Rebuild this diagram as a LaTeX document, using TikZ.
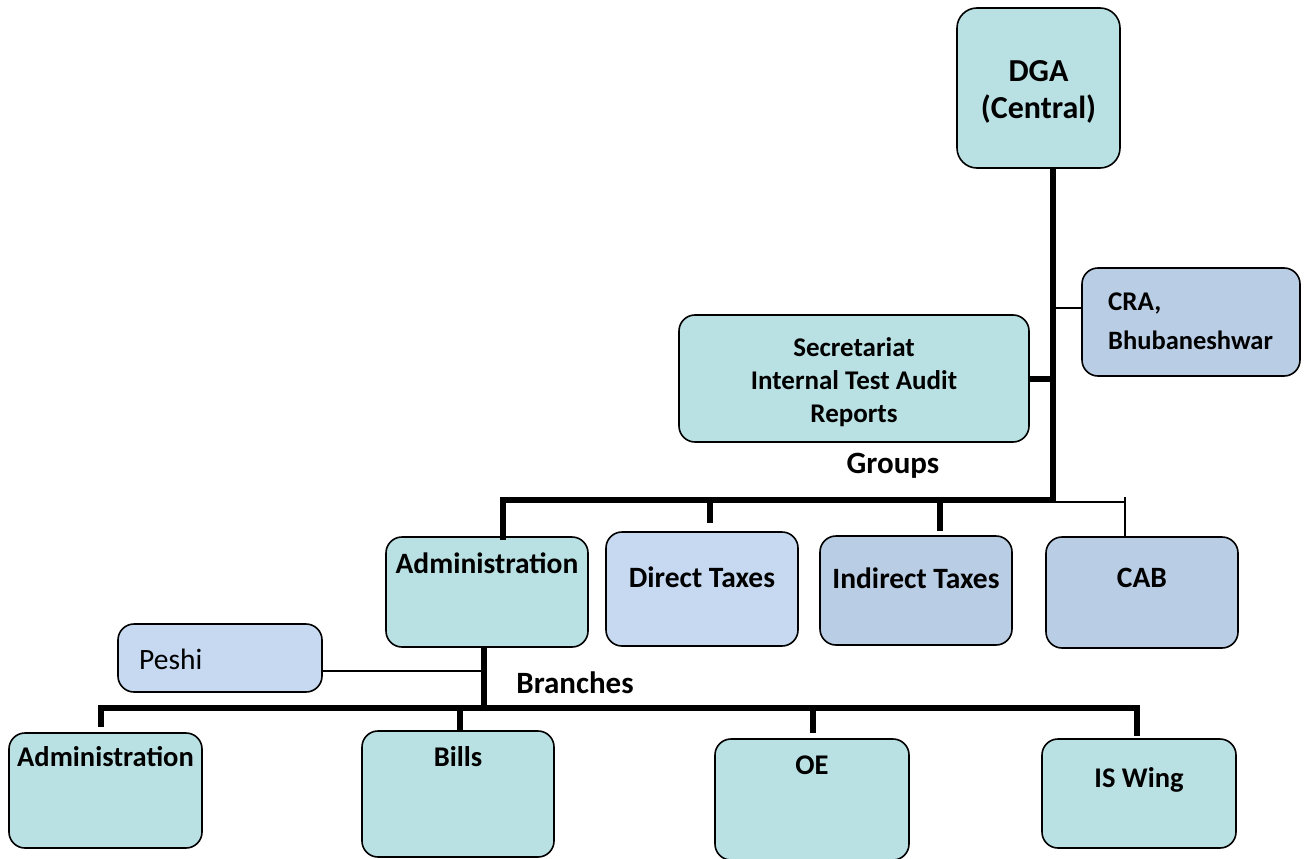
\documentclass[tikz,border=0pt]{standalone}
\usepackage{fontspec}
\setmainfont{Carlito}
\definecolor{aquafill}{HTML}{B9E0E3}
\definecolor{lbluefill}{HTML}{C6D9F1}
\definecolor{mbluefill}{HTML}{B9CDE5}
\tikzset{
  box/.style={draw=black, line width=1.6pt, rounded corners=16pt, inner sep=0pt},
  thickln/.style={line width=6pt, line join=miter},
  thinln/.style={line width=1.5pt},
  lbl/.style={inner sep=0pt, font=\fontsize{29.5}{36}\selectfont\bfseries, align=center},
  blbl/.style={inner sep=0pt, font=\fontsize{28.5}{36}\selectfont\bfseries, align=center},
  hlbl/.style={inner sep=0pt, font=\fontsize{31}{36}\selectfont\bfseries, align=center},
  slbl/.style={inner sep=0pt, font=\fontsize{27}{33}\selectfont\bfseries, align=center},
}
\begin{document}
\begin{tikzpicture}[x=1pt,y=-1pt]
\useasboundingbox (0,0) rectangle (1312,859);
% boxes
\node[box, fill=aquafill, minimum width=163pt, minimum height=160pt, rounded corners=20pt] (dga) at (1038.5,88) {};
\node[inner sep=0pt, font=\fontsize{32}{37}\selectfont\bfseries, align=center] (dgat) at (1038.5,92) {DGA\\(Central)};
\node[box, fill=mbluefill, minimum width=218pt, minimum height=108pt] (cra) at (1191,322) {};
\node[slbl, anchor=west] (crat1) at (1108,303) {CRA,};
\node[slbl, font=\fontsize{26.5}{33}\selectfont\bfseries, anchor=west] (crat2) at (1108,340) {Bhubaneshwar};
\node[box, fill=aquafill, minimum width=350pt, minimum height=127pt] (sec) at (854,378.5) {};
\node[slbl] (sect) at (854,382) {Secretariat\\Internal Test Audit\\Reports};
\node[hlbl] (groups) at (893,466) {Groups};
\node[box, fill=aquafill, minimum width=202pt, minimum height=110pt] (gadm) at (487,592) {};
\node[lbl] (gadmt) at (487,563) {Administration};
\node[box, fill=lbluefill, minimum width=192pt, minimum height=114pt] (dt) at (702,589) {};
\node[lbl] (dtt) at (702,577) {Direct Taxes};
\node[box, fill=mbluefill, minimum width=192pt, minimum height=109pt] (it) at (916,590.5) {};
\node[lbl] (itt) at (916,578) {Indirect Taxes};
\node[box, fill=mbluefill, minimum width=192pt, minimum height=111pt] (cab) at (1142,592.5) {};
\node[lbl] (cabt) at (1142,578) {CAB};
\node[box, fill=lbluefill, minimum width=204pt, minimum height=68pt] (peshi) at (220,658) {};
\node[inner sep=0pt, font=\fontsize{29.5}{34}\selectfont, anchor=west] (pesht) at (139,659) {Peshi};
\node[hlbl] (branches) at (575,683) {Branches};
\node[box, fill=aquafill, minimum width=193pt, minimum height=115pt] (badm) at (105.5,790.5) {};
\node[blbl] (badmt) at (105.5,757) {Administration};
\node[box, fill=aquafill, minimum width=192pt, minimum height=126pt] (bills) at (458,794) {};
\node[blbl] (billst) at (458,757) {Bills};
\node[box, fill=aquafill, minimum width=194pt, minimum height=121pt] (oe) at (812,799.5) {};
\node[blbl] (oet) at (812,765) {OE};
\node[box, fill=aquafill, minimum width=194pt, minimum height=109pt] (isw) at (1139,793.5) {};
\node[blbl] (iswt) at (1139,780) {IS Wing};
% junction coordinates
\coordinate (tr) at (1053,500);
\coordinate (g1) at (503,500);
\coordinate (g2) at (710,500);
\coordinate (g3) at (940,500);
\coordinate (cj) at (1125,502);
\coordinate (bj) at (484,708);
\coordinate (b1) at (101,708);
\coordinate (b2) at (460,708);
\coordinate (b3) at (813,708);
\coordinate (b4) at (1137,708);
% connectors
\draw[thickln] (dga.south -| tr) -- (tr) -- (g1) -- ([yshift=-4pt]g1 |- gadm.north);
\draw[thickln] (g2) -- (710,523);
\draw[thickln] (g3) -- (940,531);
\draw[thickln] (sec.east) -- (sec.east -| tr);
\draw[thinln] ([yshift=14pt]cra.west) -- ([yshift=14pt]cra.west -| tr);
\draw[thinln] (tr |- cj) -- (cj);
\draw[thinln] (1125,497) -- (cab.north -| cj);
\draw[thinln] ([yshift=-13pt]peshi.east) -- ([yshift=-13pt]peshi.east -| bj);
\draw[thickln] (gadm.south -| bj) -- (bj);
\draw[thickln] (101,727) -- (b1) -- (b4) -- (1137,736);
\draw[thickln] (b2) -- (bills.north -| b2);
\draw[thickln] (b3) -- (813,733);
\end{tikzpicture}
\end{document}
